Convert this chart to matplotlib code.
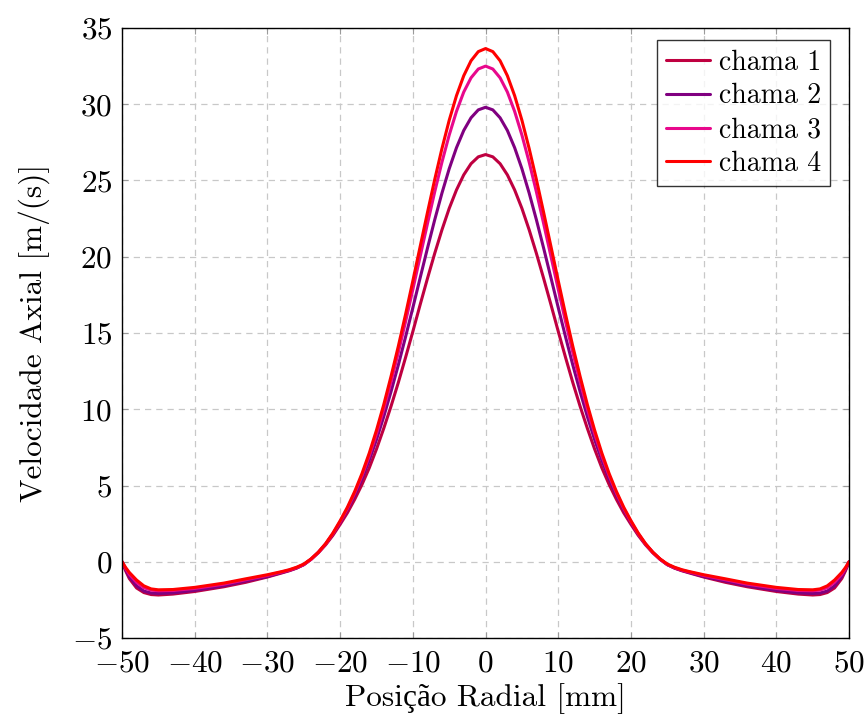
import numpy as np
import matplotlib
matplotlib.use("Agg")
import matplotlib.pyplot as plt

plt.rcParams['font.family'] = ['cmr10', 'Liberation Serif']
plt.rcParams['mathtext.fontset'] = 'cm'
plt.rcParams['axes.formatter.use_mathtext'] = True
plt.rcParams['axes.unicode_minus'] = True

# radial positions (half profile, mm) - profile is symmetric about r = 0
r_half = [0, 1, 2, 3, 4, 5, 6, 7, 8, 9, 10, 11, 12, 13, 14, 15, 16, 17, 18, 19,
          20, 21, 22, 23, 24, 25, 26, 27, 28, 30, 33, 36, 40, 43, 45, 46, 47, 48,
          49, 49.5, 50]

chama1_half = [26.70, 26.55, 26.10, 25.37, 24.38, 23.17, 21.76, 20.21, 18.56, 16.85,
               15.10, 13.40, 11.75, 10.20, 8.75, 7.39, 6.15, 5.06, 4.09, 3.21,
               2.45, 1.73, 1.11, 0.59, 0.16, -0.19, -0.42, -0.59, -0.73, -1.00,
               -1.35, -1.64, -1.95, -2.12, -2.18, -2.15, -2.02, -1.72,
               -1.10, -0.60, 0.0]
chama2_half = [29.80, 29.63, 29.11, 28.28, 27.15, 25.77, 24.17, 22.41, 20.54, 18.61,
               16.66, 14.75, 12.90, 11.16, 9.52, 8.01, 6.65, 5.43, 4.36, 3.41,
               2.58, 1.81, 1.16, 0.62, 0.17, -0.19, -0.41, -0.57, -0.70, -0.97,
               -1.27, -1.58, -1.88, -2.04, -2.08, -2.05, -1.92, -1.58,
               -0.98, -0.52, 0.0]
chama3_half = [32.50, 32.31, 31.73, 30.80, 29.53, 27.98, 26.20, 24.24, 22.15, 20.01,
               17.86, 15.75, 13.72, 11.81, 10.02, 8.40, 6.94, 5.64, 4.50, 3.50,
               2.63, 1.84, 1.16, 0.61, 0.16, -0.18, -0.39, -0.55, -0.67, -0.90,
               -1.18, -1.47, -1.75, -1.88, -1.90, -1.86, -1.70, -1.35,
               -0.82, -0.44, 0.0]
chama4_half = [33.65, 33.45, 32.85, 31.87, 30.56, 28.95, 27.09, 25.05, 22.88, 20.66,
               18.42, 16.23, 14.13, 12.16, 10.31, 8.63, 7.12, 5.78, 4.61, 3.58,
               2.69, 1.88, 1.19, 0.63, 0.19, -0.15, -0.36, -0.52, -0.64, -0.85,
               -1.12, -1.40, -1.68, -1.82, -1.84, -1.78, -1.58, -1.20,
               -0.70, -0.38, 0.0]

labels = ['chama 1', 'chama 2', 'chama 3', 'chama 4']
colors = ['#bf0040', '#800080', '#e8088c', '#ff0000']

xticks = [-50, -40, -30, -20, -10, 0, 10, 20, 30, 40, 50]
yticks = [-5, 0, 5, 10, 15, 20, 25, 30, 35]


def full_profile(half):
    h = np.asarray(half, dtype=float)
    return np.concatenate([h[::-1], h[1:]])


r_arr = np.asarray(r_half, dtype=float)
r_full = np.concatenate([-r_arr[::-1], r_arr[1:]])
series = [chama1_half, chama2_half, chama3_half, chama4_half]

fig = plt.figure(figsize=(8.68, 7.21), dpi=100)
ax = fig.add_axes([0.1406, 0.1151, 0.8376, 0.8461])

for s, lab, col in zip(series, labels, colors):
    ax.plot(r_full, full_profile(s), color=col, lw=2.2, label=lab,
            solid_joinstyle='round', solid_capstyle='round')

ax.set_xlim(-50, 50)
ax.set_ylim(-5, 35)
ax.set_xticks(xticks)
ax.set_yticks(yticks)
ax.grid(True, color='#c8c8c8', linestyle=(0, (5, 4)), linewidth=0.9)
ax.set_axisbelow(True)
ax.tick_params(direction='in', length=4, width=0.8, color='#9a9a9a',
               top=True, right=True, labelsize=22.5)
ax.tick_params(axis='x', pad=8.5)
ax.tick_params(axis='y', pad=7)
for sp in ax.spines.values():
    sp.set_linewidth(1.0)
    sp.set_color('black')

ax.set_xlabel('Posição Radial [mm]', fontsize=22.5, labelpad=4)
ax.set_ylabel('Velocidade Axial [m/(s)]', fontsize=22.5, labelpad=16)

leg = ax.legend(loc='upper right', bbox_to_anchor=(0.974, 0.980), fontsize=20,
                frameon=True, fancybox=False, borderaxespad=0.0,
                handlelength=1.6, handletextpad=0.3, borderpad=0.33,
                labelspacing=0.27)
leg.get_frame().set_edgecolor('black')
leg.get_frame().set_linewidth(1.0)

fig.savefig('out.png', dpi=100)
